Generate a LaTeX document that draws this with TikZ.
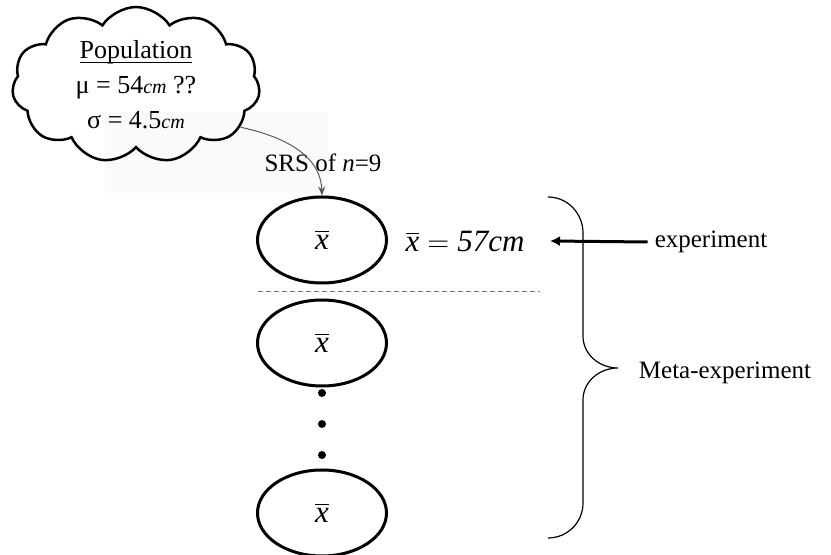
\documentclass[tikz,border=0pt]{standalone}
\usepackage{amsmath}
\usepackage{fontspec}
\setmainfont{Liberation Serif}
\usepackage{tikz}
\usetikzlibrary{arrows.meta,shapes.symbols,shapes.geometric}

\begin{document}
\begin{tikzpicture}[x=0.5pt,y=-0.5pt,
   font=\fontsize{12.5}{15}\selectfont,
   pop/.style={cloud,cloud puffs=11,cloud puff arc=115,aspect=1.7,draw,
     line width=1.25pt,inner sep=0pt,minimum width=124pt,minimum height=78pt,
     align=center,font=\fontsize{13}{17.5}\selectfont},
   smp/.style={ellipse,draw,line width=1.5pt,minimum width=64.5pt,
     minimum height=43pt,inner sep=0pt,font=\fontsize{15.5}{18}\selectfont},
   dot/.style={circle,fill,inner sep=0pt,minimum size=4pt},
   conn/.style={draw=black!65,line width=0.5pt,
     -{Stealth[length=4.5pt,width=3.5pt]}},
   bigarrow/.style={line width=1.5pt,-{Latex[length=5pt,width=5pt]}},
   sep/.style={draw=black!55,line width=0.5pt,dash pattern=on 2.5pt off 1.5pt},
   brc/.style={line width=0.6pt}]
  \useasboundingbox (0,0) rectangle (831,555);
  % faint backdrop behind the sampling label
  \fill[black!2] (105,112) rectangle (328,193);
  % population cloud
  \node[pop] (popn) at (136,85)
    {\underline{\raisebox{0pt}[\height][0.3pt]{Population}}\\
     μ = 54{\itshape\fontsize{10}{10}\selectfont cm} ??\\
     σ = 4.5{\itshape\fontsize{10}{10}\selectfont cm}};
  % samples
  \node[smp] (s1) at (322,240) {$\overline{\textit{x}}$};
  \node[smp] (s2) at (322,343) {$\overline{\textit{x}}$};
  \node[smp] (s3) at (322,513) {$\overline{\textit{x}}$};
  \foreach \i/\y in {1/393,2/424,3/455}
    \node[dot] (d\i) at (322,\y) {};
  % sampling arrow
  \node (srs) at (323,163) {SRS of \textit{n}=9};
  \draw[conn] (popn.-22) to[out=-12,in=92] (s1.north);
  % one experiment
  \node[font=\fontsize{15.5}{18}\selectfont] (obs) at (465,242)
    {$\overline{\textit{x}} = \textit{57cm}$};
  \draw[sep] (258,292) -- (540,292);
  % brace over the repeated samples
  \draw[brc] (548,197) to[out=0,in=90] (583,233) -- (583,336)
    to[out=-90,in=180] (618,368) to[out=180,in=90] (583,400)
    -- (583,503) to[out=-90,in=0] (548,538);
  \node (exp) at (711,242) {experiment};
  \coordinate (obsend) at (550,241);
  \draw[bigarrow] (exp.west) -- (obsend);
  \node (meta) at (725,373) {Meta-experiment};
\end{tikzpicture}
\end{document}
